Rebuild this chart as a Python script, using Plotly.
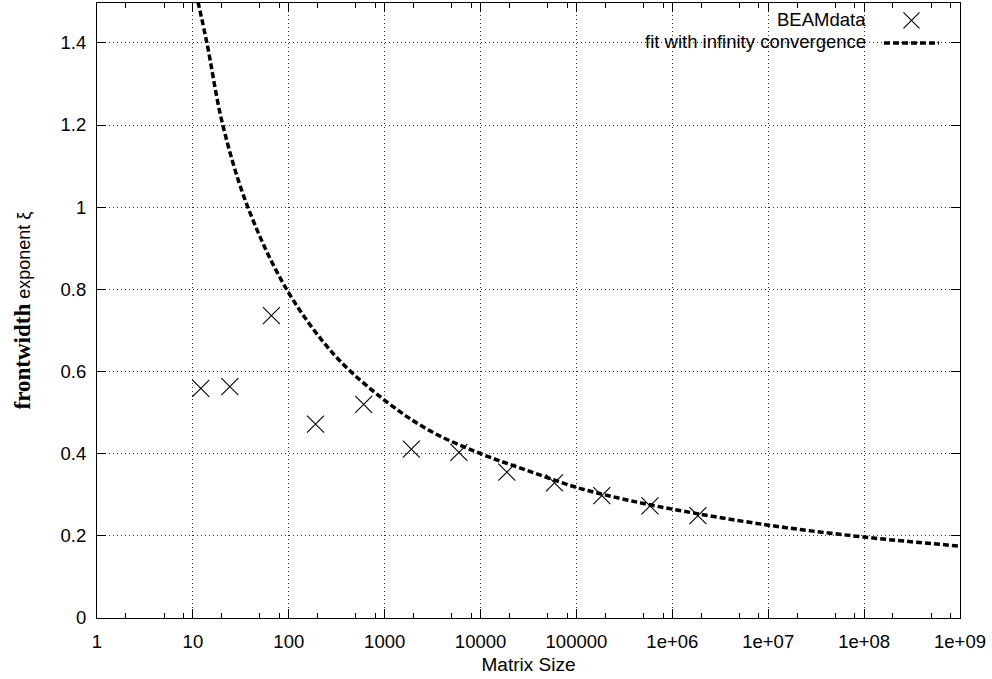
import plotly.graph_objects as go

beam_x = [12.1, 24.3, 65.9, 190, 604, 1897, 5945, 18800, 59000, 184000, 585000, 1850000]
beam_y = [0.559, 0.563, 0.736, 0.472, 0.520, 0.411, 0.403, 0.355, 0.329, 0.298, 0.273, 0.249]

# Fit curve, points
fit_x = [11.3, 14.0, 20.5, 37.4, 95, 300, 1000, 3000, 10000, 30000, 100000, 300000,
         1000000, 10000000, 100000000, 1000000000]
fit_y = [1.50, 1.40, 1.20, 1.00, 0.80, 0.64, 0.53, 0.455, 0.40, 0.36, 0.318, 0.29,
         0.265, 0.226, 0.197, 0.175]

series_names = ["BEAMdata", "fit with infinity convergence"]

x_tickvals = [1, 10, 100, 1000, 10000, 100000, 1e6, 1e7, 1e8, 1e9]
x_ticktext = ["1", "10", "100", "1000", "10000", "100000", "1e+06", "1e+07", "1e+08", "1e+09"]
x_minor = [m * d for d in [1, 10, 100, 1000, 1e4, 1e5, 1e6, 1e7, 1e8] for m in (2, 5, 8)]
y_tickvals = [0, 0.2, 0.4, 0.6, 0.8, 1.0, 1.2, 1.4]

FONT = "Liberation Sans, Arial, sans-serif"
FS = 18.5

fig = go.Figure()
fig.add_trace(go.Scatter(
    x=beam_x, y=beam_y, mode="markers", name="",
    marker=dict(symbol="x-thin-open", size=17, color="black",
                line=dict(color="black", width=1.1)),
))
fig.add_trace(go.Scatter(
    x=fit_x, y=fit_y, mode="lines", name="",
    line=dict(color="black", width=3.5, dash="6px,3px", shape="spline", smoothing=1.0),
))

# white area behind the key (hides grid there, like gnuplot)
fig.add_shape(type="rect", xref="paper", yref="paper", x0=0.505, x1=0.999, y0=0.915, y1=0.998,
              fillcolor="white", line=dict(width=0), layer="between")

# gnuplot-style key text (right-aligned, left of the key samples)
key_rows_y = [0.9724, 0.938]
for name, yy in zip(series_names, key_rows_y):
    fig.add_annotation(text=name, xref="paper", yref="paper", x=0.8934, y=yy,
                       xanchor="right", yanchor="middle", showarrow=False,
                       font=dict(size=FS, family=FONT, color="black"))

fig.update_layout(
    width=992, height=679,
    margin=dict(l=97, r=32, t=3, b=61),
    paper_bgcolor="white", plot_bgcolor="white",
    font=dict(family=FONT, size=FS, color="black"),
    showlegend=True,
    legend=dict(x=0.9061, y=0.998, xanchor="left", yanchor="top",
                bgcolor="rgba(255,255,255,0)", font=dict(size=15, family=FONT),
                itemwidth=55, tracegroupgap=0),
)
fig.update_xaxes(
    type="log", range=[0, 9],
    tickmode="array", tickvals=x_tickvals, ticktext=x_ticktext,
    ticks="inside", ticklen=9, tickwidth=1, tickcolor="black",
    showline=True, linecolor="black", linewidth=1.2, mirror="allticks",
    showgrid=True, gridcolor="#333", gridwidth=1, griddash="1px,3px",
    zeroline=False,
    ticklabelstandoff=7,
    minor=dict(tickmode="array", tickvals=x_minor, ticks="inside", ticklen=5,
               tickcolor="black", showgrid=False),
    title=dict(text="Matrix Size", font=dict(size=19, family=FONT), standoff=6),
)
fig.update_yaxes(
    range=[0, 1.497],
    tickmode="array", tickvals=y_tickvals,
    ticks="inside", ticklen=9, tickwidth=1, tickcolor="black",
    showline=True, linecolor="black", linewidth=1.2, mirror="allticks",
    showgrid=True, gridcolor="#333", gridwidth=1, griddash="1px,3px",
    zeroline=False,
    ticklabelstandoff=6,
    title=dict(
        text="<span style=\"font-family:'Liberation Serif', 'Times New Roman', serif; font-size:23px; font-weight:bold\">frontwidth</span>"
             "<span style=\"font-size:18px\"> exponent ξ</span>",
        standoff=23,
    ),
)

fig.write_html("out.html")
